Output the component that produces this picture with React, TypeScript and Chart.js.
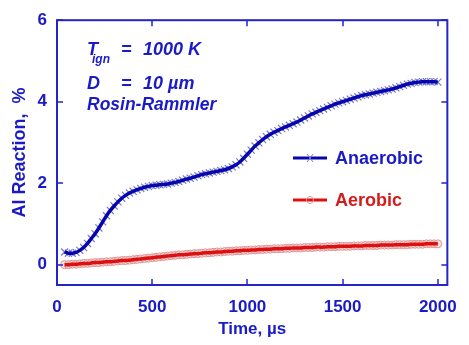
import React, { useEffect, useRef } from "react";
import { Chart, registerables } from "chart.js";

Chart.register(...registerables);

// Time, µs
const times = [
  40, 60, 80, 100, 120, 140, 160, 180, 200, 220,
  240, 260, 280, 300, 320, 340, 360, 380, 400, 420,
  440, 460, 480, 500, 520, 540, 560, 580, 600, 620,
  640, 660, 680, 700, 720, 740, 760, 780, 800, 820,
  840, 860, 880, 900, 920, 940, 960, 980, 1000, 1020,
  1040, 1060, 1080, 1100, 1120, 1140, 1160, 1180, 1200, 1220,
  1240, 1260, 1280, 1300, 1320, 1340, 1360, 1380, 1400, 1420,
  1440, 1460, 1480, 1500, 1520, 1540, 1560, 1580, 1600, 1620,
  1640, 1660, 1680, 1700, 1720, 1740, 1760, 1780, 1800, 1820,
  1840, 1860, 1880, 1900, 1920, 1940, 1960, 1980, 2000,
];

// Al Reaction, % (anaerobic)
const anaerobic = [
  0.31, 0.28, 0.28, 0.3, 0.35, 0.42, 0.52, 0.64, 0.76, 0.9,
  1.05, 1.2, 1.33, 1.44, 1.54, 1.63, 1.7, 1.76, 1.8, 1.84,
  1.87, 1.9, 1.92, 1.94, 1.95, 1.96, 1.97, 1.98, 2.0, 2.02,
  2.04, 2.07, 2.1, 2.12, 2.15, 2.18, 2.21, 2.23, 2.25, 2.27,
  2.29, 2.31, 2.33, 2.36, 2.4, 2.45, 2.52, 2.61, 2.71, 2.81,
  2.91, 2.99, 3.07, 3.14, 3.2, 3.25, 3.29, 3.34, 3.38, 3.42,
  3.46, 3.5, 3.55, 3.6, 3.65, 3.7, 3.74, 3.78, 3.82, 3.86,
  3.9, 3.94, 3.97, 4.0, 4.03, 4.06, 4.09, 4.12, 4.15, 4.17,
  4.19, 4.21, 4.23, 4.25, 4.27, 4.29, 4.31, 4.34, 4.37, 4.4,
  4.43, 4.45, 4.47, 4.48, 4.49, 4.49, 4.49, 4.49, 4.48,
];

// Al Reaction, % (aerobic)
const aerobic = [
  0.0, 0.0, 0.01, 0.01, 0.02, 0.03, 0.03, 0.04, 0.05, 0.05,
  0.06, 0.07, 0.07, 0.08, 0.09, 0.1, 0.1, 0.11, 0.12, 0.13,
  0.14, 0.15, 0.16, 0.17, 0.18, 0.19, 0.2, 0.21, 0.22, 0.23,
  0.24, 0.24, 0.25, 0.26, 0.27, 0.27, 0.28, 0.29, 0.29, 0.3,
  0.31, 0.31, 0.32, 0.33, 0.33, 0.34, 0.34, 0.35, 0.35, 0.36,
  0.36, 0.37, 0.37, 0.38, 0.38, 0.39, 0.39, 0.39, 0.4, 0.4,
  0.41, 0.41, 0.41, 0.42, 0.42, 0.42, 0.43, 0.43, 0.43, 0.44,
  0.44, 0.44, 0.45, 0.45, 0.45, 0.45, 0.46, 0.46, 0.46, 0.47,
  0.47, 0.47, 0.47, 0.48, 0.48, 0.48, 0.48, 0.49, 0.49, 0.49,
  0.49, 0.5, 0.5, 0.5, 0.5, 0.51, 0.51, 0.51, 0.51,
];

const xTicks = [0, 500, 1000, 1500, 2000];
const yTicks = [0, 2, 4, 6];
const seriesNames = ["Anaerobic", "Aerobic"];
const xTitle = "Time, µs";
const yTitle = "Al Reaction,  %";

const TEXT_BLUE = "#1a1ac6";
const AXIS_BLUE = "#2424c8";
const LINE_BLUE = "#0606b0";
const MARK_BLUE = "#7a7ac8";
const LINE_RED = "#dc1010";
const MARK_RED = "#e09494";
const TEXT_RED = "#d41c1c";
const FONT = "'Liberation Sans', Arial, sans-serif";

const pts = (ys: number[]) => times.map((t, i) => ({ x: t, y: ys[i] }));

const decorPlugin = {
  id: "decor",
  afterDraw(chart: any) {
    const ctx = chart.ctx;
    const { left, right, top, bottom } = chart.chartArea;
    const xs = chart.scales.x;
    const ys = chart.scales.y;
    ctx.save();
    // frame
    ctx.strokeStyle = AXIS_BLUE;
    ctx.lineWidth = 2;
    ctx.strokeRect(left, top, right - left, bottom - top);
    // inward ticks
    const tl = 6;
    ctx.lineWidth = 1.5;
    ctx.beginPath();
    xTicks.forEach((v) => {
      const px = Math.round(xs.getPixelForValue(v));
      ctx.moveTo(px, bottom);
      ctx.lineTo(px, bottom - tl);
      ctx.moveTo(px, top);
      ctx.lineTo(px, top + tl);
    });
    yTicks.forEach((v) => {
      const py = Math.round(ys.getPixelForValue(v));
      ctx.moveTo(left, py);
      ctx.lineTo(left + tl, py);
      ctx.moveTo(right, py);
      ctx.lineTo(right - tl, py);
    });
    ctx.stroke();

    // annotations
    ctx.fillStyle = TEXT_BLUE;
    ctx.textBaseline = "alphabetic";
    ctx.textAlign = "left";
    ctx.font = `italic bold 18px ${FONT}`;
    ctx.fillText("T", 87, 55);
    ctx.fillText("=", 121, 55);
    ctx.fillText("1000 K", 143, 55);
    ctx.fillText("D", 87, 89);
    ctx.fillText("=", 121, 89);
    ctx.fillText("10 µm", 143, 89);
    ctx.font = `italic bold 12px ${FONT}`;
    ctx.fillText("ign", 92, 63);
    ctx.font = `italic bold 17.5px ${FONT}`;
    ctx.fillText("Rosin-Rammler", 87, 110);

    // legend
    const legendY = [158, 200];
    const colors = [LINE_BLUE, LINE_RED];
    const textColors = [TEXT_BLUE, TEXT_RED];
    legendY.forEach((ly, i) => {
      ctx.strokeStyle = colors[i];
      ctx.lineWidth = 3;
      ctx.beginPath();
      ctx.moveTo(293, ly);
      ctx.lineTo(327, ly);
      ctx.stroke();
      ctx.lineWidth = 1;
      if (i === 0) {
        ctx.strokeStyle = MARK_BLUE;
        ctx.beginPath();
        ctx.moveTo(307, ly - 4);
        ctx.lineTo(313, ly + 4);
        ctx.moveTo(313, ly - 4);
        ctx.lineTo(307, ly + 4);
        ctx.stroke();
      } else {
        ctx.strokeStyle = MARK_RED;
        ctx.beginPath();
        ctx.arc(310, ly, 3.5, 0, Math.PI * 2);
        ctx.stroke();
      }
      ctx.fillStyle = textColors[i];
      ctx.font = `bold 18px ${FONT}`;
      ctx.textBaseline = "middle";
      ctx.fillText(seriesNames[i], 335, ly + 1);
    });
    ctx.restore();
  },
};

export default function App() {
  const ref = useRef<HTMLCanvasElement | null>(null);

  useEffect(() => {
    if (!ref.current) return;
    const chart = new Chart(ref.current, {
      type: "line",
      data: {
        datasets: [
          {
            label: seriesNames[0] + " markers",
            data: pts(anaerobic),
            showLine: false,
            pointStyle: "crossRot",
            pointRadius: 5,
            pointBorderWidth: 1.2,
            pointBorderColor: MARK_BLUE,
            pointBackgroundColor: MARK_BLUE,
            order: 3,
          },
          {
            label: seriesNames[1] + " markers",
            data: pts(aerobic),
            showLine: false,
            pointStyle: "circle",
            pointRadius: 4,
            pointBorderWidth: 1,
            pointBorderColor: MARK_RED,
            pointBackgroundColor: "rgba(244,206,206,0.6)",
            order: 3,
          },
          {
            label: seriesNames[0],
            data: pts(anaerobic),
            borderColor: LINE_BLUE,
            borderWidth: 3.5,
            pointRadius: 0,
            tension: 0.3,
            fill: false,
            order: 1,
          },
          {
            label: seriesNames[1],
            data: pts(aerobic),
            borderColor: LINE_RED,
            borderWidth: 3.5,
            pointRadius: 0,
            tension: 0.3,
            fill: false,
            order: 1,
          },
        ],
      },
      options: {
        responsive: false,
        animation: false,
        layout: { padding: { top: 17, right: 11, left: 0, bottom: 0 } },
        plugins: {
          legend: { display: false },
          tooltip: { enabled: false },
        },
        scales: {
          x: {
            type: "linear",
            min: 0,
            max: 2050,
            afterBuildTicks: (s: any) => {
              s.ticks = xTicks.map((v) => ({ value: v }));
            },
            afterFit: (s: any) => {
              s.height = 60;
            },
            grid: { display: false, drawTicks: false },
            border: { display: false },
            ticks: {
              color: TEXT_BLUE,
              font: { family: FONT, size: 17, weight: "bold" },
              padding: 12,
              maxRotation: 0,
              autoSkip: false,
              callback: (v: any) => String(v),
            },
            title: {
              display: true,
              text: xTitle,
              color: TEXT_BLUE,
              font: { family: FONT, size: 17, weight: "bold" },
              padding: { top: 0, bottom: 5 },
            },
          },
          y: {
            type: "linear",
            min: -0.5,
            max: 6,
            afterBuildTicks: (s: any) => {
              s.ticks = yTicks.map((v) => ({ value: v }));
            },
            afterFit: (s: any) => {
              s.width = 57;
            },
            grid: { display: false, drawTicks: false },
            border: { display: false },
            ticks: {
              color: TEXT_BLUE,
              font: { family: FONT, size: 17, weight: "bold" },
              padding: 10,
              callback: (v: any) => String(v),
            },
            title: {
              display: true,
              text: yTitle,
              color: TEXT_BLUE,
              font: { family: FONT, size: 18, weight: "bold" },
              padding: { top: 9, bottom: 0 },
            },
          },
        },
      },
      plugins: [decorPlugin],
    } as any);
    return () => chart.destroy();
  }, []);

  return (
    <div style={{ position: "fixed", left: 0, top: 0, width: 469, height: 345, background: "#fff" }}>
      <canvas ref={ref} width={469} height={345} />
    </div>
  );
}
